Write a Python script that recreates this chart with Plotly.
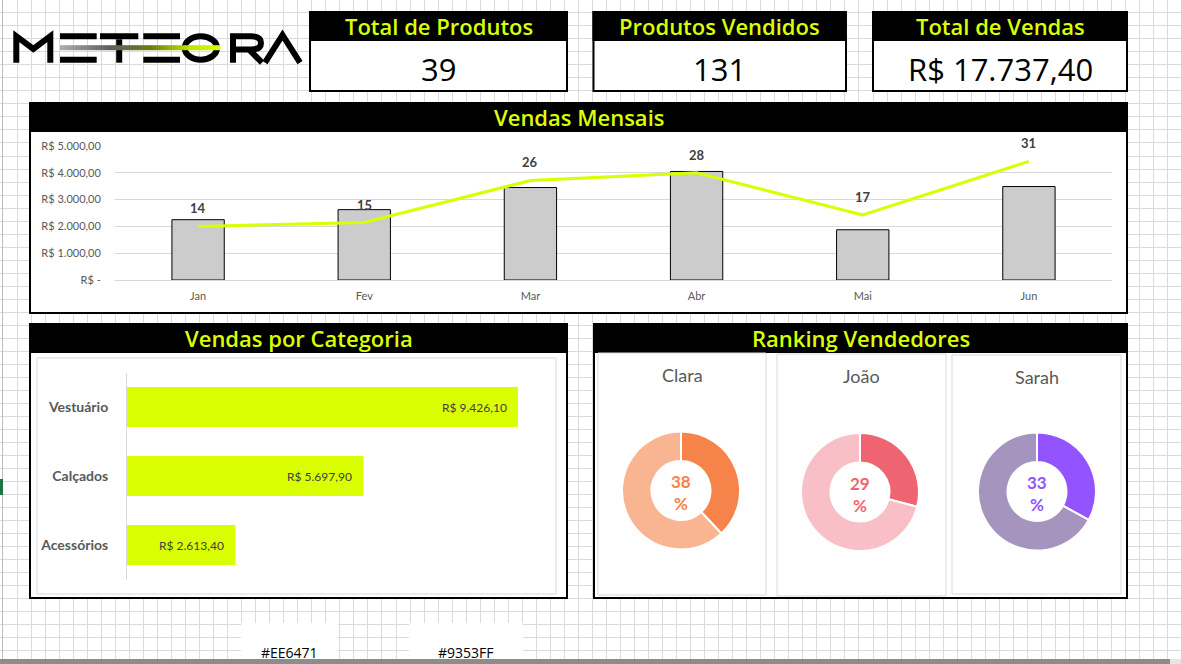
import plotly.graph_objects as go

W, H = 1181, 664

# ---------------- data ----------------
kpi_titles = ["Total de Produtos", "Produtos Vendidos", "Total de Vendas"]
kpi_values = ["39", "131", "R$ 17.737,40"]

months = ["Jan", "Fev", "Mar", "Abr", "Mai", "Jun"]
monthly_sales = [2250, 2625, 3450, 4050, 1875, 3487.40]
monthly_qty = [14, 15, 26, 28, 17, 31]
sales_ticks = [0, 1000, 2000, 3000, 4000, 5000]
sales_tick_labels = ["R$ -", "R$ 1.000,00", "R$ 2.000,00", "R$ 3.000,00",
                     "R$ 4.000,00", "R$ 5.000,00"]

categories = ["Vestuário", "Calçados", "Acessórios"]
category_sales = [9426.10, 5697.90, 2613.40]
category_labels = ["R$ 9.426,10", "R$ 5.697,90", "R$ 2.613,40"]

sellers = ["Clara", "João", "Sarah"]
seller_share = [38, 29, 33]
seller_dark = ["#F6834A", "#EE6471", "#9353FF"]
seller_light = ["#F9B591", "#F8BFC6", "#A595BE"]

color_notes = ["#EE6471", "#9353FF"]

# ---------------- helpers ----------------
LIME = "#D9FF00"
HEAD_FONT = "Open Sans"
CHART_FONT = "Lato"


def px(x):
    return x / W


def py(y):
    return 1 - y / H


shapes = []
annotations = []


def rect(x0, y0, x1, y1, fill=None, line=None, lw=0):
    shapes.append(dict(type="rect", xref="paper", yref="paper",
                       x0=px(x0), x1=px(x1), y0=py(y1), y1=py(y0),
                       fillcolor=fill or "rgba(0,0,0,0)",
                       line=dict(color=line or "rgba(0,0,0,0)", width=lw),
                       layer="below"))


def path(cmds, color="black", lw=0, fill=None):
    parts = []
    for c in cmds:
        op = c[0]
        nums = c[1:]
        coords = []
        for i in range(0, len(nums), 2):
            coords.append(f"{px(nums[i]):.5f},{py(nums[i + 1]):.5f}")
        parts.append(op + " " + " ".join(coords))
    shapes.append(dict(type="path", xref="paper", yref="paper",
                       path=" ".join(parts),
                       fillcolor=fill or "rgba(0,0,0,0)",
                       line=dict(color=color, width=lw), layer="below"))


def text(x, y, s, size, color, family, weight="normal", xanchor="center"):
    annotations.append(dict(xref="paper", yref="paper", x=px(x), y=py(y),
                            text=s, showarrow=False, xanchor=xanchor,
                            yanchor="middle",
                            font=dict(size=size, color=color, family=family,
                                      weight=weight)))


# ---------------- spreadsheet background grid ----------------
grid = []
k = 0
while True:
    x = round(16.7 + 14.03 * k) + 0.5
    if x > W:
        break
    grid.append(f"M {px(x):.5f},0 L {px(x):.5f},1")
    k += 1
k = 0
while True:
    y = round(12.3 + 13.02 * k) + 0.5
    if y > H:
        break
    grid.append(f"M 0,{py(y):.5f} L 1,{py(y):.5f}")
    k += 1
shapes.append(dict(type="path", xref="paper", yref="paper", path=" ".join(grid),
                   line=dict(color="#dadada", width=1), layer="below"))
path([("M", 2.5, 0), ("L", 2.5, H)], color="#bcbcbc", lw=1)
rect(0, 479, 3, 495, fill="#217346")

# ---------------- logo ----------------
path([("M", 16.3, 62.7), ("L", 16.3, 36.2), ("L", 33.3, 49), ("L", 50.3, 36.2),
      ("L", 50.3, 62.7)], lw=6)
for (a, b) in [(60, 96.7), (143.3, 180)]:
    rect(a, 33.3, b, 39.3, fill="black")
    rect(a, 56.7, b, 62.7, fill="black")
rect(100, 33.3, 138.3, 39.3, fill="black")
rect(116.2, 39.3, 122.2, 62.7, fill="black")
shapes.append(dict(type="circle", xref="paper", yref="paper",
                   x0=px(184.7), x1=px(217), y0=py(59.7), y1=py(36.3),
                   line=dict(color="black", width=6), layer="below"))
path([("M", 233, 62.7), ("L", 233, 36.3), ("L", 251, 36.3),
      ("Q", 261, 36.3, 261, 43), ("Q", 261, 49.5, 251, 49.5), ("L", 233, 49.5)], lw=6)
path([("M", 249, 49.5), ("L", 262, 62.7)], lw=6)
path([("M", 265, 62.7), ("L", 282.5, 35), ("L", 300, 62.7)], lw=6)

stops = [(60, (175, 175, 175)), (110, (95, 95, 95)), (150, (105, 125, 20)),
         (190, (190, 230, 0)), (220, (218, 255, 0))]
nseg = 40
for i in range(nseg):
    xa = 60 + (220 - 60) * i / nseg
    xb = 60 + (220 - 60) * (i + 1) / nseg
    xm = (xa + xb) / 2
    for j in range(len(stops) - 1):
        if stops[j][0] <= xm <= stops[j + 1][0]:
            t = (xm - stops[j][0]) / (stops[j + 1][0] - stops[j][0])
            c = tuple(int(stops[j][1][q] + t * (stops[j + 1][1][q] - stops[j][1][q])) for q in range(3))
            break
    rect(xa, 45.2, xb + 0.4, 50.2, fill=f"rgb{c}")

# ---------------- KPI boxes ----------------
kpi_x = [(310, 567), (593.5, 846), (873, 1127)]
for (x0, x1), t, v in zip(kpi_x, kpi_titles, kpi_values):
    rect(x0, 12, x1, 91, fill="white", line="black", lw=2)
    rect(x0, 12, x1, 40, fill="black", line="black", lw=2)
    text((x0 + x1) / 2, 26.5, t, 22, LIME, HEAD_FONT, weight=600)
    text((x0 + x1) / 2, 69, v, 31, "black", HEAD_FONT, weight=500)

# ---------------- panels ----------------
rect(30, 103, 1127, 313, fill="white", line="black", lw=2)
rect(30, 103, 1127, 131, fill="black", line="black", lw=2)
text(578.5, 117, "Vendas Mensais", 22, LIME, HEAD_FONT, weight=600)

rect(30, 324, 567, 598, fill="white", line="black", lw=2)
rect(30, 324, 567, 352, fill="black", line="black", lw=2)
text(298.5, 338, "Vendas por Categoria", 22, LIME, HEAD_FONT, weight=600)
rect(37, 358, 556, 594, fill="white", line="#d9d9d9", lw=1)

rect(594, 324, 1127, 598, fill="white", line="black", lw=2)
rect(594, 324, 1127, 352, fill="black", line="black", lw=2)
text(860.5, 338, "Ranking Vendedores", 22, LIME, HEAD_FONT, weight=600)
sub_boxes = [(598, 353, 766, 595), (777, 354, 946, 596), (952, 355, 1121, 594)]
for b in sub_boxes:
    rect(*b, fill="white", line="#d9d9d9", lw=1)

# bottom cells & scrollbar
for (x0, x1), s in zip([(241, 338), (409, 523)], color_notes):
    rect(x0, 623, x1, 664, fill="white")
    text((x0 + x1) / 2, 652, s, 14, "black", HEAD_FONT)
rect(0, 659, 1170, 664, fill="#8c8c8c")
rect(1170, 659, W, 664, fill="#e6e6e6")

# ---------------- traces ----------------
fig = go.Figure()

fig.add_trace(go.Bar(x=months, y=monthly_sales, width=0.315,
                     marker=dict(color="#cccccc", line=dict(color="black", width=1)),
                     xaxis="x", yaxis="y", hoverinfo="skip"))
fig.add_trace(go.Scatter(x=months, y=monthly_qty, mode="lines",
                         line=dict(color=LIME, width=3),
                         xaxis="x", yaxis="y2", hoverinfo="skip"))
for m, q in zip(months, monthly_qty):
    annotations.append(dict(xref="x", yref="y2", x=m, y=q, text=str(q),
                            showarrow=False, yshift=18,
                            font=dict(size=13, color="#404040", family=CHART_FONT,
                                      weight="bold")))

fig.add_trace(go.Bar(y=categories, x=category_sales, orientation="h", width=0.58,
                     marker=dict(color=LIME, line=dict(width=0)),
                     xaxis="x2", yaxis="y3", hoverinfo="skip"))
for c, v, lab in zip(categories, category_sales, category_labels):
    annotations.append(dict(xref="x2", yref="y3", x=v, y=c, text=lab,
                            showarrow=False, xanchor="right", xshift=-9,
                            font=dict(size=12, color="#404040", family=CHART_FONT)))

centers = [(681, 490.5), (860, 492), (1037, 491.5)]
R = 59
for (cx, cy), name, share, dk, lt in zip(centers, sellers, seller_share,
                                         seller_dark, seller_light):
    fig.add_trace(go.Pie(values=[share, 100 - share], hole=0.5, sort=False,
                         direction="clockwise", rotation=0,
                         marker=dict(colors=[dk, lt], line=dict(color="white", width=2)),
                         textinfo="none", hoverinfo="skip", showlegend=False,
                         domain=dict(x=[px(cx - R), px(cx + R)],
                                     y=[py(cy + R), py(cy - R)])))
    text(cx, cy + 2, f"{share}<br>%", 17, dk, CHART_FONT, weight="bold")
for (b, name) in zip(sub_boxes, sellers):
    text((b[0] + b[2]) / 2, b[1] + 22, name, 18, "#595959", CHART_FONT)

tick_font = dict(size=11, color="#595959", family=CHART_FONT)
fig.update_layout(
    width=W, height=H, margin=dict(l=0, r=0, t=0, b=0, pad=0, autoexpand=False),
    paper_bgcolor="white", plot_bgcolor="rgba(0,0,0,0)", showlegend=False,
    shapes=shapes, annotations=annotations,
    xaxis=dict(domain=[px(115), px(1112)], anchor="y", type="category",
               range=[-0.5, 5.5], tickfont=tick_font, ticks="outside", ticklen=6,
               tickcolor="rgba(0,0,0,0)", showgrid=False, showline=False,
               zeroline=False, fixedrange=True, automargin=False),
    yaxis=dict(domain=[py(280), py(146)], anchor="x", range=[0, 5000],
               tickvals=sales_ticks, ticktext=sales_tick_labels, tickfont=tick_font,
               gridcolor="#d9d9d9", gridwidth=1, zeroline=True,
               zerolinecolor="#d9d9d9", zerolinewidth=1, showline=False,
               ticks="outside", ticklen=11, tickcolor="rgba(0,0,0,0)",
               fixedrange=True, automargin=False),
    yaxis2=dict(overlaying="y", anchor="x", range=[0, 35], visible=False,
                showgrid=False, zeroline=False, fixedrange=True),
    xaxis2=dict(domain=[px(127), px(541.8)], anchor="y3", range=[0, 10000],
                visible=False, showgrid=False, zeroline=False, fixedrange=True),
    yaxis3=dict(domain=[py(579.5), py(372.5)], anchor="x2", autorange="reversed",
                showline=True, linecolor="#d9d9d9", linewidth=1, showgrid=False,
                ticks="outside", ticklen=15, tickcolor="rgba(0,0,0,0)",
                tickfont=dict(size=14, color="#595959", family=CHART_FONT,
                              weight="bold"),
                fixedrange=True, automargin=False),
)

fig.write_html("out.html", config={"displayModeBar": False},
               post_script="document.body.style.margin='0';document.body.style.overflow='hidden';")
